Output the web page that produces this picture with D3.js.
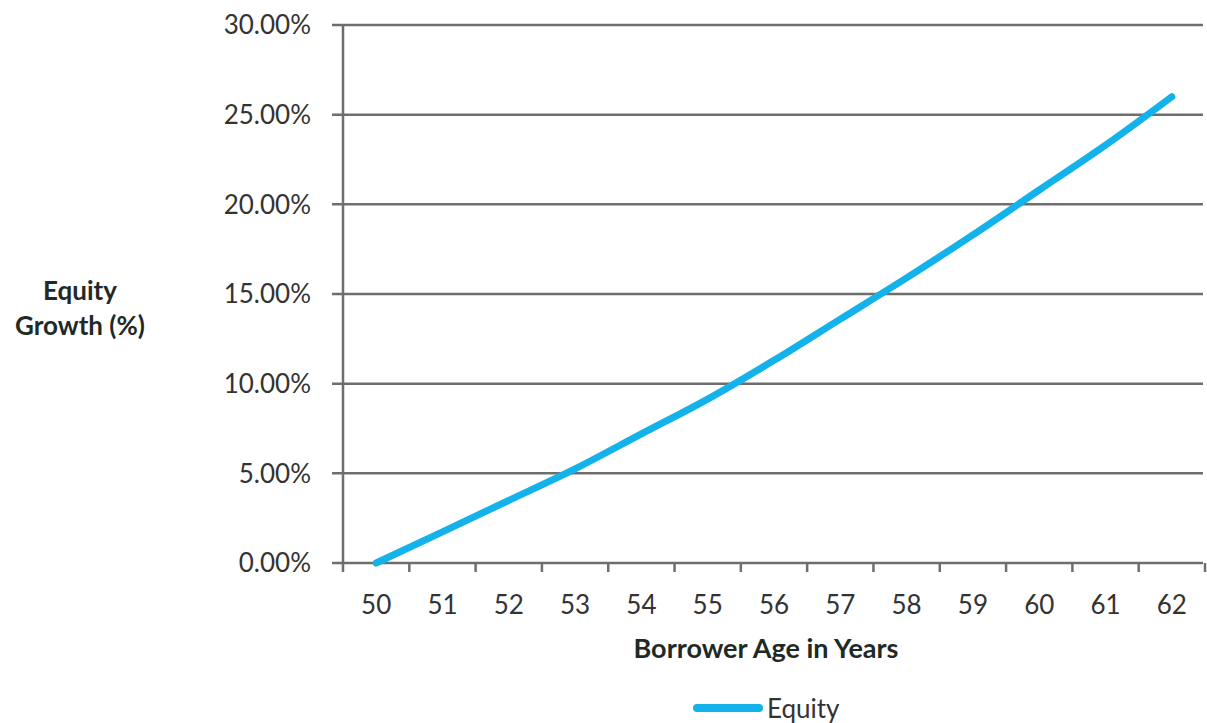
<!DOCTYPE html>
<html lang="en">
<head>
<meta charset="utf-8" />
<title>Equity Growth</title>
<script src="https://cdn.jsdelivr.net/npm/d3@7"></script>
<style>
  body { margin: 0; background: #fff; }
  svg { display: block; font-family: Lato, "Open Sans", sans-serif; }
  .tick-label { fill: #333; font-size: 26px; }
  .title { fill: #1f2a26; font-weight: bold; }
</style>
</head>
<body>
<svg id="chart" width="1207" height="723"></svg>
<script>
// data
var ages = ["50", "51", "52", "53", "54", "55", "56", "57", "58", "59", "60", "61", "62"];
var equity = [0, 1.74, 3.49, 5.25, 7.2, 9.14, 11.3, 13.6, 15.9, 18.3, 20.8, 23.3, 26.0];
var yTicks = [0, 5, 10, 15, 20, 25, 30];

var svg = d3.select("#chart");
var plotLeft = 343, plotRight = 1205, plotTop = 25, plotBottom = 563;

var x = d3.scaleBand().domain(ages).range([plotLeft, plotRight]).padding(0);
var y = d3.scaleLinear().domain([0, 30]).range([plotBottom, plotTop]);

var gray = "#6e6e6e";

// horizontal grid lines + little ticks left of the axis
svg.append("g").selectAll("line")
  .data(yTicks)
  .join("line")
  .attr("x1", plotLeft - 11)
  .attr("x2", plotRight - 2)
  .attr("y1", function(d) { return y(d); })
  .attr("y2", function(d) { return y(d); })
  .attr("stroke", gray)
  .attr("stroke-width", 2.5);

svg.append("g").selectAll("text")
  .data(yTicks)
  .join("text")
  .attr("class", "tick-label")
  .attr("x", 311)
  .attr("y", function(d) { return y(d); })
  .attr("dy", "0.36em")
  .attr("text-anchor", "end")
  .text(function(d) { return d3.format(".2f")(d) + "%"; });

// vertical axis line
svg.append("line")
  .attr("x1", plotLeft).attr("x2", plotLeft)
  .attr("y1", y(30)).attr("y2", plotBottom + 9)
  .attr("stroke", gray)
  .attr("stroke-width", 2.5);

// category boundary ticks on x axis
var bounds = ages.map(function(a) { return x(a); }).concat([x(ages[ages.length - 1]) + x.bandwidth()]);
svg.append("g").selectAll("line")
  .data(bounds.slice(1))
  .join("line")
  .attr("x1", function(d) { return d; })
  .attr("x2", function(d) { return d; })
  .attr("y1", plotBottom)
  .attr("y2", plotBottom + 9)
  .attr("stroke", gray)
  .attr("stroke-width", 2.5);

svg.append("g").selectAll("text")
  .data(ages)
  .join("text")
  .attr("class", "tick-label")
  .attr("x", function(d) { return x(d) + x.bandwidth() / 2; })
  .attr("y", 614)
  .attr("text-anchor", "middle")
  .text(function(d) { return d; });

// the equity line
var line = d3.line()
  .x(function(d, i) { return x(ages[i]) + x.bandwidth() / 2; })
  .y(function(d) { return y(d); })
  .curve(d3.curveMonotoneX);

svg.append("path")
  .datum(equity)
  .attr("d", line)
  .attr("fill", "none")
  .attr("stroke", "#14b2ea")
  .attr("stroke-width", 7)
  .attr("stroke-linecap", "round");

// titles
var yt = svg.append("text")
  .attr("class", "title")
  .attr("text-anchor", "middle")
  .style("font-size", "26px");
yt.append("tspan").attr("x", 80).attr("y", 300).text("Equity");
yt.append("tspan").attr("x", 80).attr("y", 335).text("Growth (%)");

svg.append("text")
  .attr("class", "title")
  .attr("x", 766)
  .attr("y", 658)
  .attr("text-anchor", "middle")
  .style("font-size", "27px")
  .text("Borrower Age in Years");

// legend
svg.append("line")
  .attr("x1", 697).attr("x2", 759)
  .attr("y1", 708).attr("y2", 708)
  .attr("stroke", "#14b2ea")
  .attr("stroke-width", 8)
  .attr("stroke-linecap", "round");

svg.append("text")
  .attr("x", 767)
  .attr("y", 718)
  .attr("fill", "#333")
  .style("font-size", "26px")
  .text("Equity");
</script>
</body>
</html>
